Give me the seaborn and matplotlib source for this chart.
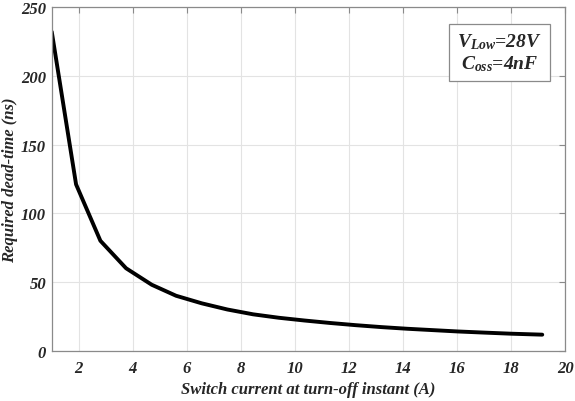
import matplotlib
matplotlib.use('Agg')
import matplotlib.pyplot as plt
import seaborn as sns
import pandas as pd

# data
switch_current = [1.0, 1.9, 2.8, 3.75, 4.7, 5.6, 6.55, 7.5, 8.45, 9.4,
                  10.35, 11.3, 12.25, 13.2, 14.15, 15.1, 16.05, 17.0, 18.0, 19.15]
dead_time = [232, 121, 80, 60, 48, 40, 34.5, 30, 26.5, 24,
             22, 20.2, 18.6, 17.2, 16.0, 15.0, 14.0, 13.2, 12.4, 11.7]
x_ticks = [2, 4, 6, 8, 10, 12, 14, 16, 18, 20]
y_ticks = [0, 50, 100, 150, 200, 250]

df = pd.DataFrame({'current': switch_current, 'dead_time': dead_time})

sns.set_style('whitegrid')
plt.rcParams['font.family'] = ['Liberation Serif', 'DejaVu Serif']
plt.rcParams['font.weight'] = 'bold'
plt.rcParams['font.style'] = 'italic'
plt.rcParams['mathtext.fontset'] = 'custom'
plt.rcParams['mathtext.rm'] = 'Liberation Serif:bold:italic'
plt.rcParams['mathtext.it'] = 'Liberation Serif:bold:italic'
plt.rcParams['mathtext.bf'] = 'Liberation Serif:bold:italic'

fig, ax = plt.subplots(figsize=(5.75, 4.02), dpi=100)
sns.lineplot(data=df, x='current', y='dead_time', color='black', linewidth=2.8, ax=ax)

ax.set_xlim(1, 20)
ax.set_ylim(0, 250)
ax.set_xticks(x_ticks)
ax.set_yticks(y_ticks)
ax.grid(True, color='#e3e3e3', linewidth=0.8)
for s in ax.spines.values():
    s.set_visible(True)
    s.set_color('#8a8a8a')
    s.set_linewidth(0.9)
ax.tick_params(direction='in', length=4, color='#8a8a8a', top=True, right=True,
               labelsize=12, labelcolor='#262626')
ax.tick_params(axis='y', pad=4)
ax.tick_params(axis='x', pad=7)
for lab in ax.get_xticklabels() + ax.get_yticklabels():
    lab.set_fontweight('bold')
    lab.set_fontstyle('italic')

ax.set_xlabel('Switch current at turn-off instant (A)', fontsize=12, fontweight='bold',
              fontstyle='italic', color='#262626', labelpad=3)
ax.set_ylabel('Required dead-time (ns)', fontsize=12, fontweight='bold',
              fontstyle='italic', color='#262626', labelpad=2)

ax.text(0.872, 0.868, '$V_{Low}$=28V\n$C_{oss}$=4nF', transform=ax.transAxes,
        ha='center', va='center', fontsize=14, fontweight='bold', fontstyle='italic',
        linespacing=1.15,
        bbox=dict(boxstyle='square,pad=0.4', facecolor='white', edgecolor='#8a8a8a', linewidth=0.9))

fig.subplots_adjust(left=0.09, right=0.983, top=0.98, bottom=0.125)
fig.savefig('out.png', dpi=100)
